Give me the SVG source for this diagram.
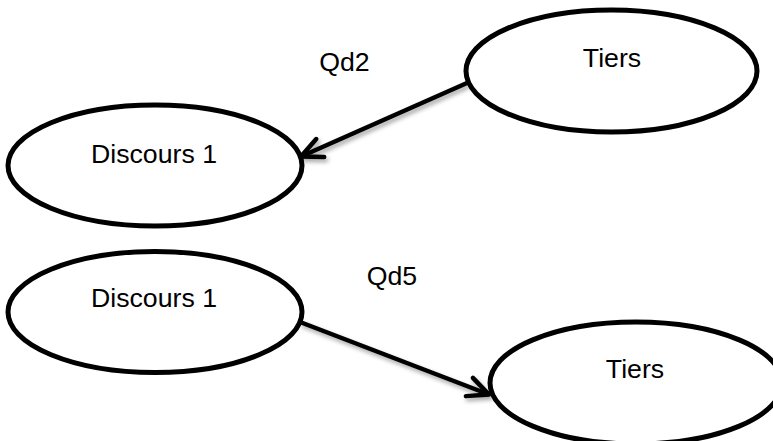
<svg xmlns="http://www.w3.org/2000/svg" width="773" height="441" viewBox="0 0 773 441">
  <style>
    .node { fill: #ffffff; stroke: #000000; stroke-width: 5; }
    .label { font-family: "Liberation Sans", Arial, sans-serif; font-size: 26.7px; fill: #000000; text-anchor: middle; }
    .edge { stroke: #000000; stroke-width: 4.5; fill: none; marker-end: url(#arrow); filter: url(#shadow); }
  </style>
  <defs>
    <marker id="arrow" markerUnits="userSpaceOnUse" markerWidth="40" markerHeight="40" viewBox="-30 -20 40 40" refX="0" refY="0" orient="auto" overflow="visible">
      <path d="M -21 -9.8 L 0 0 L -21 9.8" fill="none" stroke="#000000" stroke-width="4.5" stroke-linejoin="round" stroke-linecap="round"/>
    </marker>
    <filter id="shadow" x="-20%" y="-50%" width="140%" height="200%">
      <feDropShadow dx="2" dy="3" stdDeviation="2" flood-color="#000000" flood-opacity="0.35"/>
    </filter>
  </defs>
  <rect width="773" height="441" fill="#ffffff"/>

  <g id="connectors">
    <path class="edge" d="M 467 83 L 301 156.5"/>
    <path class="edge" d="M 300 322 L 489 394.5"/>
  </g>

  <g id="node-tiers-top">
    <ellipse class="node" cx="611.5" cy="71" rx="145.5" ry="61"/>
    <text class="label" x="612" y="67">Tiers</text>
  </g>
  <g id="node-discours-top">
    <ellipse class="node" cx="155" cy="165.5" rx="147" ry="60.5"/>
    <text class="label" x="154" y="163">Discours 1</text>
  </g>
  <g id="label-qd2">
    <text class="label" x="344.5" y="71">Qd2</text>
  </g>
  <g id="node-discours-bottom">
    <ellipse class="node" cx="155" cy="312" rx="147" ry="60.5"/>
    <text class="label" x="154" y="307">Discours 1</text>
  </g>
  <g id="label-qd5">
    <text class="label" x="392" y="285">Qd5</text>
  </g>
  <g id="node-tiers-bottom">
    <ellipse class="node" cx="636" cy="383" rx="146" ry="61"/>
    <text class="label" x="635" y="378">Tiers</text>
  </g>
</svg>
